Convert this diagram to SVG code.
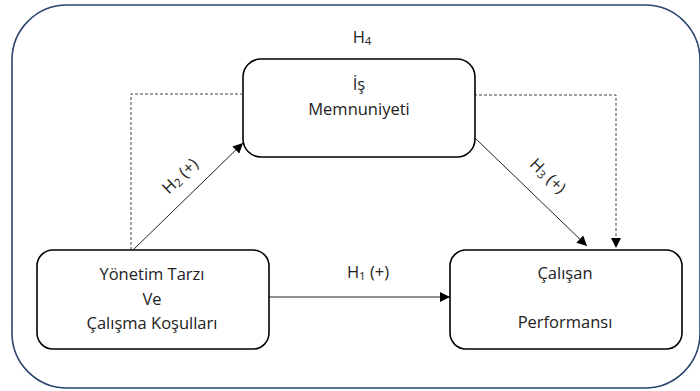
<svg xmlns="http://www.w3.org/2000/svg" width="700" height="391" viewBox="0 0 700 391">
<style>
.box{fill:#fff;stroke:#000;stroke-width:1.6}
.t{font-family:"Open Sans","Liberation Sans",sans-serif;font-size:16.5px;fill:#222;text-anchor:middle}
.sub{font-size:11.5px}
.ln{stroke:#222;stroke-width:1;fill:none}
.ds{stroke:#444;stroke-width:1;fill:none;stroke-dasharray:3,2}
</style>
<defs>
<marker id="ah" viewBox="0 0 10 10" refX="10" refY="5" markerWidth="10" markerHeight="10" markerUnits="userSpaceOnUse" orient="auto">
<path d="M0,0 L10,5 L0,10 z" fill="#000"/>
</marker>
</defs>
<rect x="12" y="5" width="688" height="383" rx="55" ry="55" fill="#fff" stroke="#2a4570" stroke-width="1.6"/>
<g id="connectors">
<polyline class="ds" points="131,250 131,94 242,94"/>
<polyline class="ds" points="474,95 616,95 616,248" marker-end="url(#ah)"/>
<line class="ln" x1="133" y1="250" x2="243" y2="143" marker-end="url(#ah)"/>
<line class="ln" x1="474" y1="137" x2="587" y2="246" marker-end="url(#ah)"/>
<line class="ln" x1="269" y1="297" x2="450" y2="297" marker-end="url(#ah)"/>
<text class="t" x="362" y="43">H<tspan class="sub" dy="2">4</tspan></text>
<text class="t" x="368" y="278">H<tspan class="sub" dy="2">1</tspan><tspan dy="-2"> (+)</tspan></text>
<text class="t" transform="translate(184,180) rotate(-44)">H<tspan class="sub" dy="2">2</tspan><tspan dy="-2"> (+)</tspan></text>
<text class="t" transform="translate(544,180) rotate(44)">H<tspan class="sub" dy="2">3</tspan><tspan dy="-2"> (+)</tspan></text>
</g>
<g id="is-memnuniyeti">
<rect class="box" x="243" y="59" width="232" height="98" rx="18"/>
<text class="t" x="359" y="90">İş</text>
<text class="t" x="359" y="115">Memnuniyeti</text>
</g>
<g id="yonetim">
<rect class="box" x="37" y="250" width="232" height="99" rx="16"/>
<text class="t" x="152" y="280">Yönetim Tarzı</text>
<text class="t" x="152" y="305">Ve</text>
<text class="t" x="152" y="329">Çalışma Koşulları</text>
</g>
<g id="calisan">
<rect class="box" x="450" y="250" width="232" height="99" rx="16"/>
<text class="t" x="565" y="279">Çalışan</text>
<text class="t" x="565" y="328">Performansı</text>
</g>
</svg>
